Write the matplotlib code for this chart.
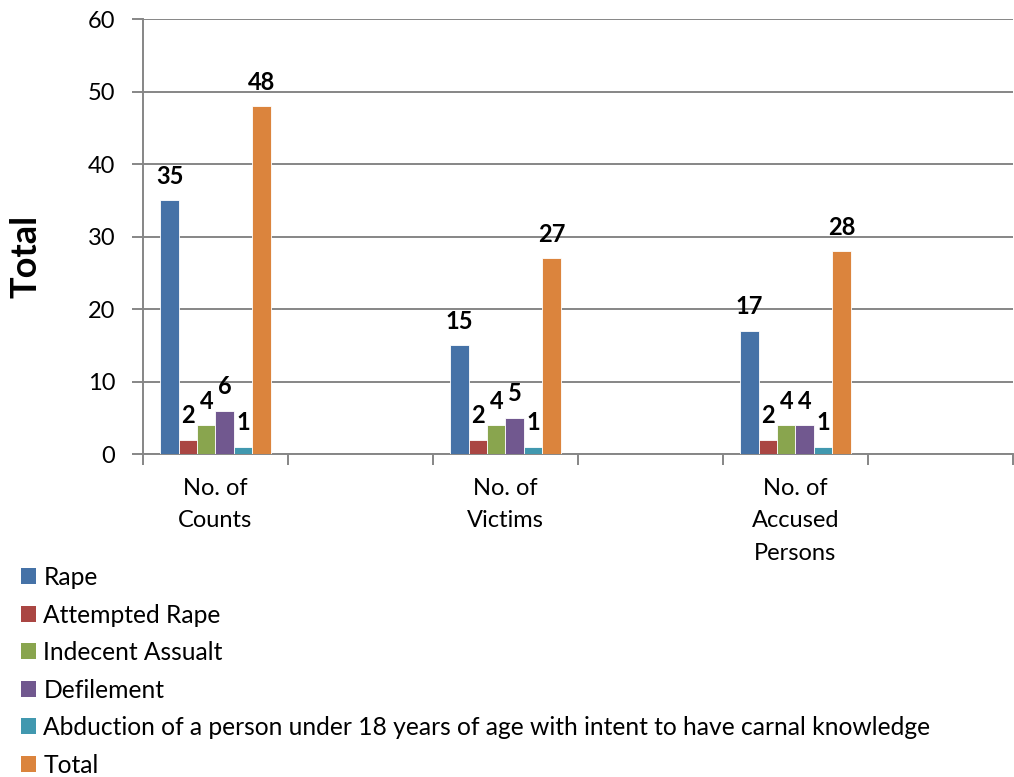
import matplotlib
matplotlib.use("Agg")
import matplotlib.pyplot as plt
import numpy as np
from matplotlib.patches import Patch

plt.rcParams["font.family"] = ["Lato", "DejaVu Sans"]

categories = ["No. of\nCounts", "No. of\nVictims", "No. of\nAccused\nPersons"]
series = ["Rape", "Attempted Rape", "Indecent Assualt", "Defilement",
          "Abduction of a person under 18 years of age with intent to have carnal knowledge",
          "Total"]
rape = [35, 15, 17]
attempted = [2, 2, 2]
indecent = [4, 4, 4]
defilement = [6, 5, 4]
abduction = [1, 1, 1]
total = [48, 27, 28]
colors = ["#4572A7", "#AA4643", "#89A54E", "#71588F", "#4198AF", "#DB843D"]
y_ticks = [0, 10, 20, 30, 40, 50, 60]

values = [rape, attempted, indecent, defilement, abduction, total]
grid_col = "#868686"
fs = 17

fig = plt.figure(figsize=(10.14, 7.77), dpi=100)
ax = fig.add_axes([0.141, 0.4157, 0.858, 0.5598])

# each labelled category sits in every other slot, empty slots in between
pos = np.arange(len(categories)) * 2
bw = 0.76 / len(series)
for i, (vals, col) in enumerate(zip(values, colors)):
    xs = pos - 0.38 + bw * (i + 0.5)
    ax.bar(xs, vals, width=bw, color=col, edgecolor="white", linewidth=0.6, zorder=3)
    for x, v in zip(xs, vals):
        ax.annotate(str(v), (x, v), xytext=(0, 9), textcoords="offset points",
                    ha="center", va="bottom", fontsize=fs, fontweight="bold", zorder=4)

ax.set_xlim(-0.5, len(categories) * 2 - 0.5)
ax.set_ylim(0, 60)
ax.set_yticks(y_ticks)
ax.yaxis.grid(True, color=grid_col, linewidth=1.4, zorder=0)
ax.set_axisbelow(True)

ax.set_xticks(pos)
ax.set_xticklabels(categories, fontsize=fs, linespacing=1.68, va="top")
ax.set_xticks(np.arange(-0.5, len(categories) * 2, 1.0), minor=True)
ax.tick_params(axis="x", which="major", length=0, pad=17)
ax.tick_params(axis="x", which="minor", length=8, width=1.4, color=grid_col)
ax.tick_params(axis="y", length=8, width=1.4, color=grid_col, labelsize=fs, pad=12)

for s in ["top", "right"]:
    ax.spines[s].set_visible(False)
for s in ["left", "bottom"]:
    ax.spines[s].set_color(grid_col)
    ax.spines[s].set_linewidth(1.4)

ax.set_ylabel("Total", fontsize=26, fontweight="bold")
ax.yaxis.set_label_coords(-0.115, 0.455)

handles = [Patch(facecolor=c, edgecolor="none") for c in colors]
fig.legend(handles, series, loc="upper left", bbox_to_anchor=(0.0207, 0.2715),
           frameon=False, fontsize=17.7, handlelength=0.62, handleheight=0.62,
           handletextpad=0.29, labelspacing=0.59, borderaxespad=0, borderpad=0)

fig.savefig("out.png", dpi=100)
